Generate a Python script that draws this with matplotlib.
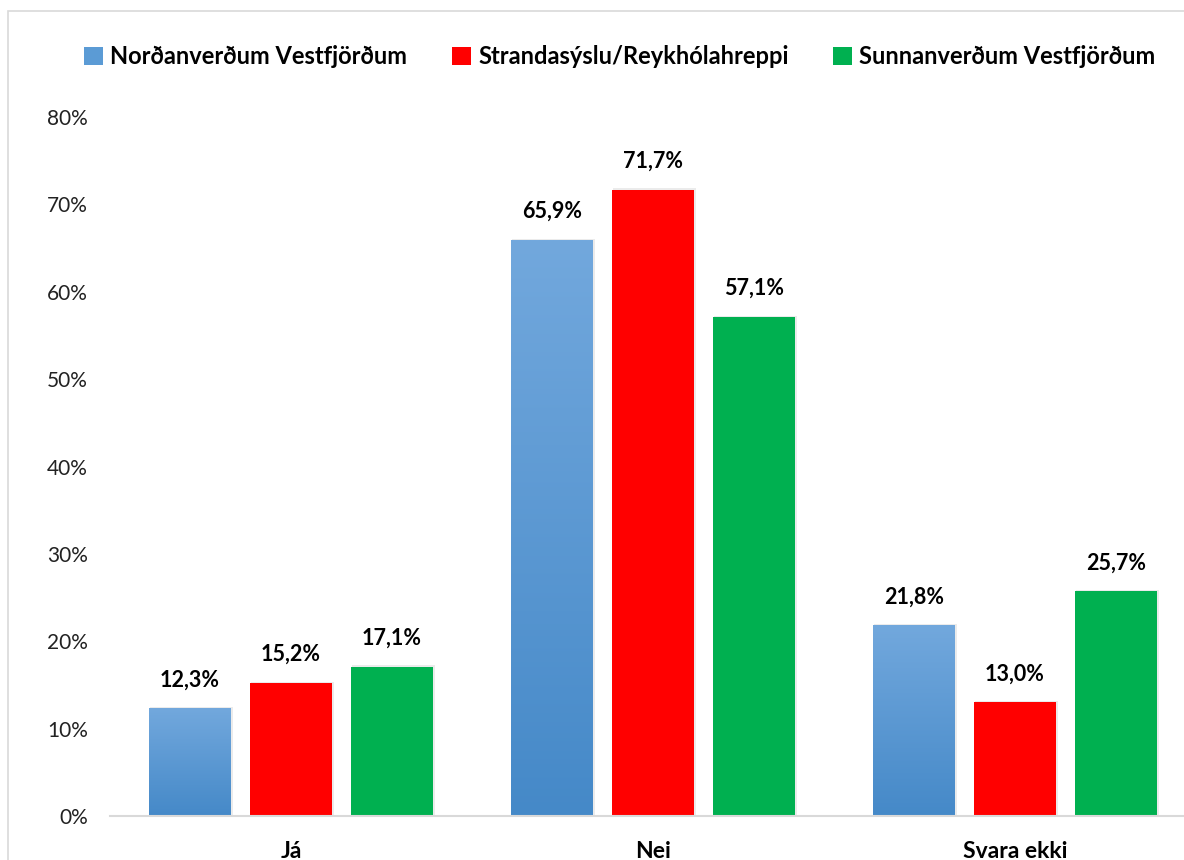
import numpy as np
import matplotlib
matplotlib.use("Agg")
import matplotlib.pyplot as plt
from matplotlib.patches import Rectangle
from matplotlib.colors import LinearSegmentedColormap

# Data
categories = ["Já", "Nei", "Svara ekki"]
series_names = ["Norðanverðum Vestfjörðum", "Strandasýslu/Reykhólahreppi", "Sunnanverðum Vestfjörðum"]
nordan = [12.3, 65.9, 21.8]
strand = [15.2, 71.7, 13.0]
sunnan = [17.1, 57.1, 25.7]
yticks = [0, 10, 20, 30, 40, 50, 60, 70, 80]

plt.rcParams['font.family'] = ['Lato', 'DejaVu Sans']

W, H = 1184, 860
fig = plt.figure(figsize=(W / 100, H / 100), dpi=100)
fig.patch.set_facecolor("white")

# chart border (cut off on right and bottom)
fig.patches.append(Rectangle((8 / W, -0.1), 1.2, (H - 11) / H + 0.1, transform=fig.transFigure,
                             fill=False, edgecolor="#d9d9d9", linewidth=1.2))

ax = fig.add_axes([110 / W, 1 - 816 / H, 1086 / W, 699 / H])
ax.set_xlim(-0.5, 2.5)
ax.set_ylim(0, 80)

bar_w = 0.2265
step = 0.279
colors = ["#5b9bd5", "#ff0000", "#00b050"]
blue_cmap = LinearSegmentedColormap.from_list("bl", ["#4589c8", "#72a8dd"])
grad = np.linspace(0, 1, 256).reshape(-1, 1)

x = np.arange(len(categories))
for i, (vals, col) in enumerate(zip([nordan, strand, sunnan], colors)):
    xs = x + (i - 1) * step
    for xc, v in zip(xs, vals):
        x0 = xc - bar_w / 2
        # soft shadow
        ax.add_patch(Rectangle((x0 + 0.003, 0), bar_w + 0.003, v + 0.15, facecolor="#000000",
                               alpha=0.08, linewidth=0, zorder=1))
        if i == 0:
            ax.imshow(grad, extent=(x0, x0 + bar_w, 0, v), origin="lower", cmap=blue_cmap,
                      aspect="auto", zorder=2, interpolation="bilinear")
        else:
            ax.add_patch(Rectangle((x0, 0), bar_w, v, facecolor=col, linewidth=0, zorder=2))
        ax.annotate(f"{v:.1f}%".replace(".", ","), (xc, v), xytext=(0, 13),
                    textcoords="offset points", ha="center", va="bottom",
                    fontsize=15.5, fontweight="bold", color="black")

ax.set_xlim(-0.5, 2.5)
ax.set_ylim(0, 80)
ax.set_yticks(yticks)
ax.set_yticklabels([f"{t}%" for t in yticks], fontsize=15, color="#222222")
ax.set_xticks(x)
ax.set_xticklabels(categories, fontsize=16.5, fontweight="bold")
ax.tick_params(axis="both", length=0)
ax.tick_params(axis="y", pad=16)
ax.tick_params(axis="x", pad=18)
for s in ["top", "right", "left"]:
    ax.spines[s].set_visible(False)
ax.spines["bottom"].set_color("#d9d9d9")
ax.spines["bottom"].set_linewidth(1.5)
ax.spines["bottom"].set_zorder(3)

handles = [Rectangle((0, 0), 1, 1, facecolor=c) for c in ["#5b9bd5", "#ff0000", "#00b050"]]
fig.legend(handles, series_names, loc="center", bbox_to_anchor=(620 / W, 1 - 57 / H), ncol=3,
           frameon=False, prop={"size": 17, "weight": "bold"}, handlelength=0.8, handleheight=0.8,
           handletextpad=0.3, columnspacing=1.9)

fig.savefig("out.png", dpi=100)
